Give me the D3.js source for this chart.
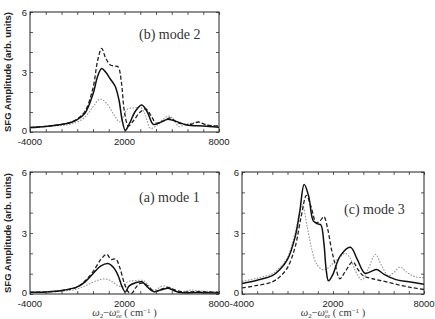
<!DOCTYPE html>
<html><head><meta charset="utf-8">
<script src="https://cdn.jsdelivr.net/npm/d3@7"></script>
<style>body{margin:0;background:#fff}svg{display:block}</style>
</head><body><svg id="c" width="435" height="319"></svg>
<script>
// ---- data (x in cm^-1, y in arb. units) ----
const xTickLabels = [-4000, 2000, 8000];
const yTickLabels = [0, 3, 6];
const panelLabels = ["(b) mode 2", "(a) mode 1", "(c) mode 3"];

const bSolid = [[-4000,0.22],[-3000,0.28],[-2000,0.38],[-1500,0.45],[-1000,0.62],[-500,0.95],[0,1.9],[300,2.8],[550,3.18],[800,3.0],[1100,2.65],[1400,2.3],[1650,1.6],[1850,0.6],[2050,0.08],[2300,0.4],[2700,1.05],[3100,1.35],[3450,1.0],[3830,0.38],[4200,0.45],[4700,0.63],[5200,0.55],[5950,0.35],[7000,0.3],[8000,0.24]];
const bDashed = [[-4000,0.22],[-3000,0.28],[-2000,0.38],[-1500,0.47],[-1000,0.65],[-500,1.05],[0,2.2],[300,3.6],[550,4.18],[800,3.7],[1100,3.35],[1400,3.3],[1600,3.25],[1800,2.5],[2000,1.0],[2250,0.3],[2600,0.6],[3000,1.0],[3350,1.15],[3700,0.8],[4000,0.45],[4500,0.55],[4900,0.7],[5300,0.5],[5800,0.38],[6300,0.4],[6700,0.5],[7200,0.35],[8000,0.3]];
const bDotted = [[-4000,0.25],[-3000,0.28],[-2000,0.33],[-1500,0.38],[-1000,0.5],[-500,0.75],[0,1.25],[450,1.65],[900,1.4],[1300,0.9],[1700,0.5],[1950,0.8],[2200,1.15],[2600,1.2],[3000,1.25],[3300,0.9],[3650,0.18],[4000,0.3],[4400,0.6],[4800,0.8],[5100,0.65],[5450,0.27],[5800,0.35],[6300,0.45],[6700,0.5],[7200,0.35],[8000,0.3]];

const aSolid = [[-4000,0.08],[-3000,0.1],[-2000,0.17],[-1000,0.35],[-500,0.6],[0,1.0],[500,1.38],[950,1.5],[1300,1.3],[1600,0.9],[1850,0.35],[2050,0.1],[2300,0.4],[2700,0.55],[3100,0.6],[3450,0.35],[3830,0.12],[4300,0.2],[4780,0.28],[5200,0.15],[5600,0.07],[6500,0.07],[8000,0.05]];
const aDashed = [[-4000,0.08],[-3000,0.1],[-2000,0.16],[-1000,0.35],[-500,0.65],[0,1.1],[500,1.7],[870,1.95],[1150,1.7],[1450,1.72],[1700,1.3],[2000,0.5],[2250,0.1],[2460,0.03],[2700,0.3],[3000,0.52],[3300,0.5],[3600,0.3],[3900,0.12],[4400,0.25],[4800,0.32],[5200,0.2],[5700,0.1],[6500,0.12],[8000,0.08]];
const aDotted = [[-4000,0.08],[-3000,0.1],[-2000,0.14],[-1000,0.25],[-500,0.4],[0,0.58],[400,0.7],[800,0.74],[1200,0.62],[1600,0.4],[1900,0.38],[2200,0.6],[2600,0.65],[3200,0.66],[3500,0.45],[3830,0.2],[4460,0.39],[4900,0.3],[5420,0.11],[5900,0.15],[6270,0.2],[6800,0.15],[8000,0.1]];

const cSolid = [[-4000,0.52],[-3000,0.68],[-2000,0.9],[-1500,1.2],[-1000,1.7],[-500,2.8],[-200,4.0],[100,5.38],[400,4.8],[700,3.6],[1000,3.45],[1200,3.4],[1400,2.5],[1550,1.2],[1700,0.65],[1950,0.9],[2500,1.9],[3150,2.3],[3600,1.7],[4100,1.02],[4500,1.1],[4880,1.2],[5400,0.95],[6100,0.72],[7000,0.6],[8000,0.48]];
const cDashed = [[-4000,0.3],[-3000,0.42],[-2000,0.6],[-1500,0.85],[-1000,1.3],[-500,2.3],[-100,3.8],[250,4.85],[550,4.3],[900,3.5],[1150,3.6],[1400,3.8],[1650,3.2],[1900,2.2],[2130,1.5],[2450,0.75],[2800,1.1],[3300,1.58],[3650,1.2],[4000,0.9],[4600,0.75],[5500,0.6],[6500,0.42],[7300,0.3],[8000,0.22]];
const cDotted = [[-4000,0.62],[-3000,0.78],[-2000,1.0],[-1500,1.3],[-1000,1.8],[-500,3.0],[-25,4.38],[300,3.3],[600,2.2],[900,1.5],[1300,1.2],[1600,1.25],[2000,1.5],[2500,1.85],[2800,2.0],[3100,1.8],[3500,1.1],[3900,0.7],[4300,1.2],[4800,1.95],[5200,1.4],[5650,0.9],[6000,1.05],[6420,1.32],[6900,1.05],[7400,0.85],[8000,0.8]];

// ---- layout ----
const styles = [
  {stroke:"#111", width:1.5, dash:null},
  {stroke:"#222", width:1.3, dash:"4,2.2"},
  {stroke:"#999", width:1.1, dash:"1.6,1.4"}
];
const panels = [
  {box:[30,219,12,132], series:[bSolid,bDashed,bDotted], label:panelLabels[0], lx:139, ly:39, ylab:true, xlab:false},
  {box:[30,219,172,294], series:[aSolid,aDashed,aDotted], label:panelLabels[1], lx:139, ly:202, ylab:true, xlab:true},
  {box:[242,424,172,294], series:[cSolid,cDashed,cDotted], label:panelLabels[2], lx:344, ly:214, ylab:false, xlab:true}
];

const svg = d3.select("#c");
const tickFont = "Liberation Sans, Arial, sans-serif";
const serif = "Liberation Serif, DejaVu Serif, serif";

panels.forEach(p => {
  const [x0,x1,y0,y1] = p.box;
  const x = d3.scaleLinear().domain([-4000,8000]).range([x0,x1]);
  const y = d3.scaleLinear().domain([0,6]).range([y1,y0]);
  const g = svg.append("g");

  // curves
  const line = d3.line().x(d=>x(d[0])).y(d=>y(d[1])).curve(d3.curveCatmullRom.alpha(0.5));
  g.append("defs").append("clipPath").attr("id","clip"+x0+y0)
    .append("rect").attr("x",x0).attr("y",y0).attr("width",x1-x0).attr("height",y1-y0);
  const cg = g.append("g").attr("clip-path","url(#clip"+x0+y0+")");
  [2,1,0].forEach(i => {
    const s = styles[i];
    cg.append("path").datum(p.series[i]).attr("d",line)
      .attr("fill","none").attr("stroke",s.stroke).attr("stroke-width",s.width)
      .attr("stroke-dasharray",s.dash).attr("stroke-linejoin","round");
  });

  // axes (ticks inward, mirrored)
  const xMinor = d3.range(-4000,8001,1000);
  const yMinor = d3.range(0,7,1);
  const bottom = d3.axisBottom(x).tickValues(xMinor).tickSizeInner(-3).tickSizeOuter(0).tickFormat("");
  const top = d3.axisTop(x).tickValues(xMinor).tickSizeInner(-3).tickSizeOuter(0).tickFormat("");
  const left = d3.axisLeft(y).tickValues(yMinor).tickSizeInner(-3).tickSizeOuter(0).tickFormat("");
  const right = d3.axisRight(y).tickValues(yMinor).tickSizeInner(-3).tickSizeOuter(0).tickFormat("");
  g.append("g").attr("transform",`translate(0,${y1})`).call(bottom);
  g.append("g").attr("transform",`translate(0,${y0})`).call(top);
  g.append("g").attr("transform",`translate(${x0},0)`).call(left);
  g.append("g").attr("transform",`translate(${x1},0)`).call(right);
  g.selectAll(".domain").remove();
  g.selectAll(".tick line").attr("stroke","#333").attr("stroke-width",0.8);
  g.append("rect").attr("x",x0).attr("y",y0).attr("width",x1-x0).attr("height",y1-y0)
    .attr("fill","none").attr("stroke","#222").attr("stroke-width",1);

  // tick labels
  g.selectAll(".xl").data(xTickLabels).join("text")
    .attr("x",d=>x(d)).attr("y",y1+12.5).attr("text-anchor","middle")
    .attr("font-family",tickFont).attr("font-size",9.5).attr("fill","#222")
    .text(d=>d<0 ? "-"+Math.abs(d) : d);
  g.selectAll(".yl").data(yTickLabels).join("text")
    .attr("x",x0-3).attr("y",d=>y(d)+(d===0 ? 2.3 : 3.5)).attr("text-anchor","end")
    .attr("font-family",tickFont).attr("font-size",9.5).attr("fill","#222")
    .text(d=>d);

  // panel label
  g.append("text").attr("x",p.lx).attr("y",p.ly).attr("font-family",serif)
    .attr("font-size",14).attr("fill","#333").text(p.label);

  if (p.ylab) {
    g.append("text").attr("transform",`translate(10.5,${(y0+y1)/2}) rotate(-90)`)
      .attr("text-anchor","middle").attr("font-family",tickFont).attr("font-weight","bold")
      .attr("font-size",9.5).attr("fill","#222").text("SFG Amplitude (arb. units)");
  }
  if (p.xlab) {
    const t = g.append("text").attr("x",(x0+x1)/2).attr("y",316.3).attr("text-anchor","middle")
      .attr("font-family",serif).attr("font-size",10.5).attr("fill","#333");
    t.append("tspan").attr("font-style","italic").text("\u03c9");
    t.append("tspan").attr("font-size",7).attr("dy",1.5).text("2");
    t.append("tspan").attr("dy",-1.5).text("\u2212");
    t.append("tspan").attr("font-style","italic").text("\u03c9");
    t.append("tspan").attr("font-size",6).attr("dy",-3.5).text("o");
    t.append("tspan").attr("font-size",6).attr("font-style","italic").attr("dx",-3.3).attr("dy",5).text("ee");
    t.append("tspan").attr("dy",-1.5).text(" ( cm");
    t.append("tspan").attr("font-size",7).attr("dy",-3.5).text("\u22121");
    t.append("tspan").attr("dy",3.5).text(" )");
  }
});
</script></body></html>
